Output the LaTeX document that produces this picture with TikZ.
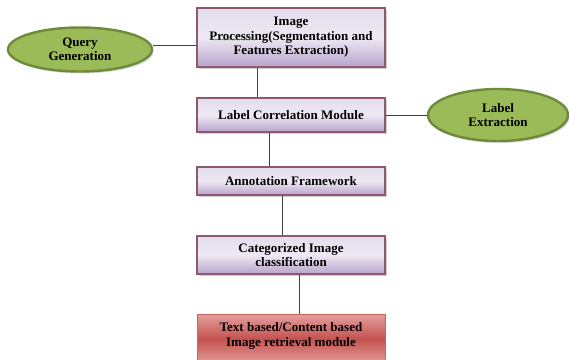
\documentclass[tikz,border=0pt]{standalone}
\usepackage{fontspec}
\setmainfont{Liberation Serif}
\usetikzlibrary{shapes.geometric,shadows,decorations.pathmorphing}
\definecolor{boxborder}{HTML}{8C5A6C}
\definecolor{boxtop}{HTML}{E4DCEC}
\definecolor{boxmid}{HTML}{EEE9F3}
\definecolor{boxbot}{HTML}{B8A3CC}
\definecolor{redtop}{HTML}{E4A09E}
\definecolor{redmid}{HTML}{C4524F}
\definecolor{redborder}{HTML}{C46562}
\definecolor{ellfill}{HTML}{9BBB59}
\definecolor{ellborder}{HTML}{6E8A3A}
\definecolor{linegray}{HTML}{404040}
\tikzset{
  txt/.style={font=\fontsize{13}{14.5}\selectfont\bfseries, align=center},
  procbox/.style={txt, draw=boxborder, line width=1.1pt, top color=boxtop, bottom color=boxbot, middle color=boxmid,
    minimum width=188pt, inner sep=0pt,
    drop shadow={shadow xshift=1.5pt, shadow yshift=-1.5pt, fill=gray!60, opacity=0.6}},
  redbox/.style={draw=redborder, line width=1pt, top color=redtop, bottom color=redtop, middle color=redmid,
    minimum width=188pt, inner sep=0pt},
  ellnode/.style={txt, ellipse, draw=ellborder, line width=2.4pt, fill=ellfill, inner sep=0pt,
    drop shadow={shadow xshift=1.5pt, shadow yshift=-2pt, fill=gray!50, opacity=0.6}},
  conn/.style={draw=linegray, line width=0.9pt}
}
\begin{document}
\begin{tikzpicture}[x=1pt,y=-1pt]
\useasboundingbox (0,0) rectangle (569,359);
\node[procbox, minimum height=59pt] (b1) at (291,37.5) {Image\\Processing(Segmentation and\\Features Extraction)};
\node[procbox, minimum height=34pt] (b2) at (291,115) {Label Correlation Module};
\node[procbox, minimum height=28pt] (b3) at (291,181) {Annotation Framework};
\node[procbox, minimum height=38pt] (b4) at (291,255) {Categorized Image\\classification};
\node[redbox, minimum height=50pt] (b5) at (291,339) {};
\node[txt] (b5t) at (291,336) {Text based/Content based\\Image retrieval module};
\node[ellnode, minimum width=144pt, minimum height=44pt] (qg) at (80,49.5) {Query\\Generation};
\node[ellnode, minimum width=140pt, minimum height=52pt] (le) at (498,115) {Label\\Extraction};
\coordinate (sq1) at (210,39.5);
\coordinate (sq2) at (257,39.5);
\draw[green!60!black, line width=0.4pt, decorate, decoration={snake, amplitude=0.6pt, segment length=2.5pt}] (sq1) -- (sq2);
\draw[conn] (qg.east |- 0,45) -- (b1.west |- 0,45);
\draw[conn] (b1.south -| 257,0) -- (b2.north -| 257,0);
\draw[conn] (b2.east) -- (le.west);
\draw[conn] (b2.south -| 269,0) -- (b3.north -| 269,0);
\draw[conn] (b3.south -| 282,0) -- (b4.north -| 282,0);
\draw[conn] (b4.south -| 299,0) -- (b5.north -| 299,0);
\end{tikzpicture}
\end{document}
